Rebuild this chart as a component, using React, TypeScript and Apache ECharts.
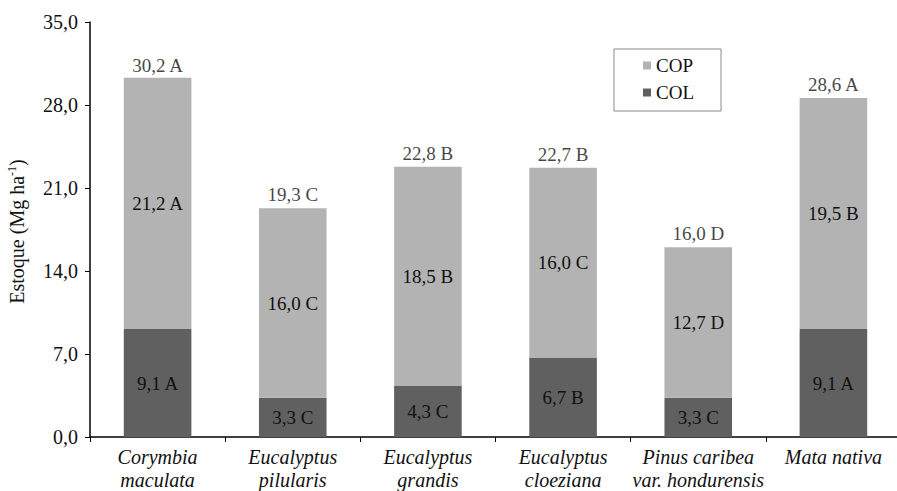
import React, { useEffect, useRef } from "react";
import * as echarts from "echarts";

const categories = [
  "Corymbia\nmaculata",
  "Eucalyptus\npilularis",
  "Eucalyptus\ngrandis",
  "Eucalyptus\ncloeziana",
  "Pinus caribea\nvar. hondurensis",
  "Mata nativa",
];
const colValues = [9.1, 3.3, 4.3, 6.7, 3.3, 9.1];
const colLetters = ["A", "C", "C", "B", "C", "A"];
const copValues = [21.2, 16.0, 18.5, 16.0, 12.7, 19.5];
const copLetters = ["A", "C", "B", "C", "D", "B"];
const totalValues = [30.2, 19.3, 22.8, 22.7, 16.0, 28.6];
const totalLetters = ["A", "C", "B", "B", "D", "A"];
const yTicks = [0, 7, 14, 21, 28, 35];

const FONT = "Liberation Serif";
const fmt = (v: number) => v.toFixed(1).replace(".", ",");
const rich = {
  s: { fontFamily: FONT, fontSize: 19, color: "#111" },
  y: { fontFamily: FONT, fontSize: 20, color: "#111" },
  i: { fontFamily: FONT, fontSize: 20, fontStyle: "italic", color: "#111", lineHeight: 23 },
  r: { fontFamily: FONT, fontSize: 20, color: "#111", lineHeight: 23 },
};

const catLine = (line: string) =>
  line.startsWith("var. ") ? "{r|var. }{i|" + line.slice(5) + "}" : "{i|" + line + "}";

export default function App() {
  const ref = useRef<HTMLDivElement>(null);
  useEffect(() => {
    if (!ref.current) return;
    const chart = echarts.init(ref.current, undefined, { renderer: "svg" });
    const labelStyle = {
      show: true,
      position: "inside",
      fontFamily: FONT,
      fontSize: 19,
      color: "#111",
      rich,
    };
    chart.setOption({
      animation: false,
      textStyle: { fontFamily: FONT },
      grid: { left: 90, right: -4, top: 22, bottom: 54, containLabel: false, outerBoundsMode: "none" },
      legend: {
        data: ["COP", "COL"],
        orient: "vertical",
        left: 638,
        top: 51,
        itemWidth: 8,
        itemHeight: 8,
        itemGap: 8,
        icon: "rect",
        formatter: (name: string) => "{s|" + name + "}",
        textStyle: { fontFamily: FONT, fontSize: 19, color: "#111", rich },
      },
      graphic: [
        {
          type: "rect",
          shape: { x: 614, y: 49, width: 107, height: 62 },
          style: { fill: "none", stroke: "#8a8a8a", lineWidth: 1 },
          silent: true,
        },
      ],
      xAxis: {
        type: "category",
        data: categories,
        axisLine: { lineStyle: { color: "#000", width: 1.5 } },
        axisTick: { show: true, length: 5, lineStyle: { color: "#000" } },
        axisLabel: {
          fontFamily: FONT,
          fontStyle: "italic",
          fontSize: 20,
          color: "#111",
          lineHeight: 23,
          margin: 8,
          interval: 0,
          rich,
          formatter: (v: string) => v.split("\n").map(catLine).join("\n"),
        },
      },
      yAxis: {
        type: "value",
        min: 0,
        max: 35,
        interval: 7,
        name: "{n|Estoque (Mg ha}{sup|-1}{n|)}",
        nameLocation: "middle",
        nameGap: 63,
        nameRotate: 90,
        nameTextStyle: {
          fontFamily: FONT,
          fontSize: 20,
          color: "#111",
          padding: [0, 4, 0, 0],
          rich: {
            n: { fontFamily: FONT, fontSize: 20, color: "#111" },
            sup: { fontFamily: FONT, fontSize: 12, verticalAlign: "top", color: "#111", padding: [0, 0, 9, 0] },
          },
        },
        axisLine: { show: true, lineStyle: { color: "#000", width: 1.5 } },
        axisTick: { show: true, length: 5, lineStyle: { color: "#000" } },
        splitLine: { show: false },
        axisLabel: {
          fontFamily: FONT,
          fontSize: 20,
          color: "#111",
          margin: 12,
          rich,
          formatter: (v: number) => (yTicks.includes(v) ? "{y|" + fmt(v) + "}" : ""),
        },
      },
      series: [
        {
          name: "COL",
          type: "bar",
          stack: "s",
          barWidth: "50%",
          data: colValues,
          itemStyle: { color: "#606060" },
          label: {
            ...labelStyle,
            formatter: (p: any) => "{s|" + fmt(colValues[p.dataIndex]) + " " + colLetters[p.dataIndex] + "}",
          },
        },
        {
          name: "COP",
          type: "bar",
          stack: "s",
          barWidth: "50%",
          data: copValues,
          itemStyle: { color: "#b3b3b3" },
          label: {
            ...labelStyle,
            formatter: (p: any) => "{s|" + fmt(copValues[p.dataIndex]) + " " + copLetters[p.dataIndex] + "}",
          },
        },
        {
          name: "Total",
          type: "scatter",
          data: totalValues,
          symbolSize: 0,
          silent: true,
          label: {
            show: true,
            position: "top",
            distance: 4,
            fontFamily: FONT,
            fontSize: 19,
            color: "#111",
            rich,
            formatter: (p: any) => "{s|" + fmt(totalValues[p.dataIndex]) + " " + totalLetters[p.dataIndex] + "}",
          },
        },
      ],
    });
    return () => chart.dispose();
  }, []);
  return <div ref={ref} style={{ position: "absolute", left: 0, top: 0, width: 897, height: 491 }} />;
}
